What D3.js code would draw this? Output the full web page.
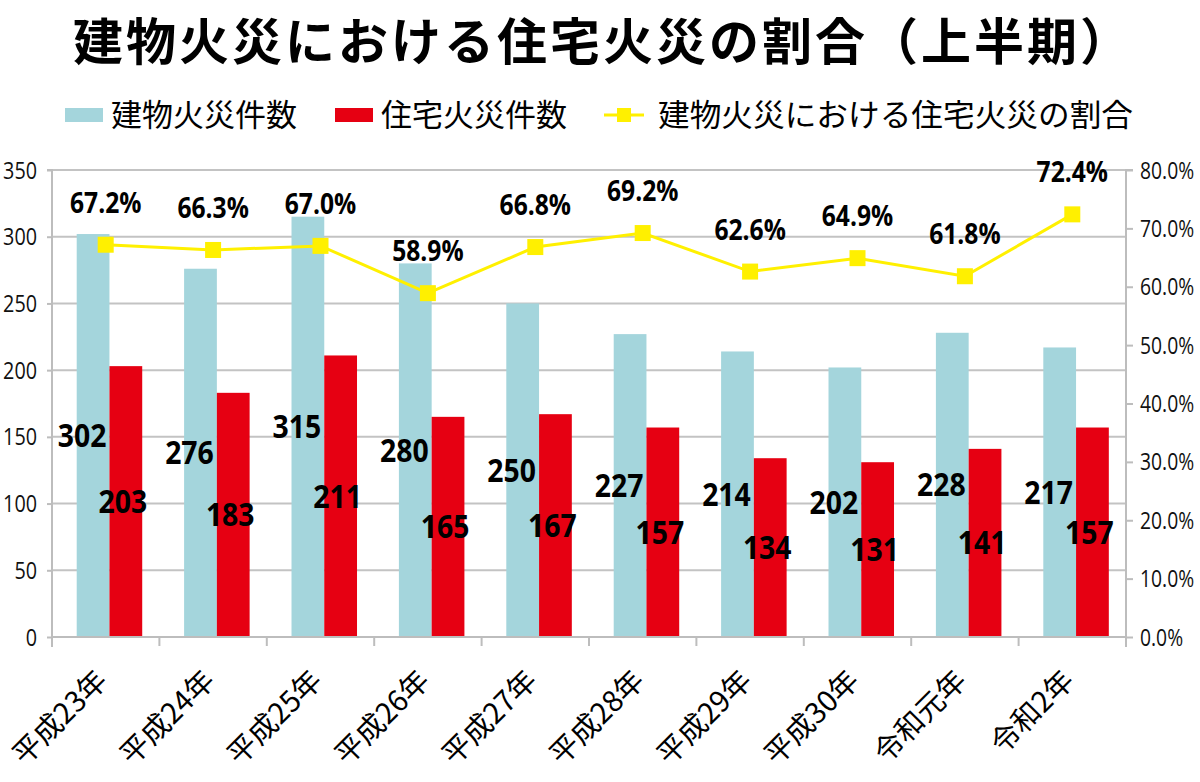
<!DOCTYPE html>
<html><head><meta charset="utf-8">
<script src="https://cdn.jsdelivr.net/npm/d3@7"></script>
<style>
body{margin:0;background:#fff;}
svg{display:block;}
</style></head><body>
<svg id="c" width="1200" height="782"></svg>
<script>
const categories = ["平成23年","平成24年","平成25年","平成26年","平成27年","平成28年","平成29年","平成30年","令和元年","令和2年"];
const buildingFires = [302,276,315,280,250,227,214,202,228,217];
const houseFires = [203,183,211,165,167,157,134,131,141,157];
const ratio = [67.2,66.3,67.0,58.9,66.8,69.2,62.6,64.9,61.8,72.4];
const leftTicks = [0,50,100,150,200,250,300,350];
const rightTicks = [0,10,20,30,40,50,60,70,80];
const seriesNames = ["建物火災件数","住宅火災件数","建物火災における住宅火災の割合"];
const title = "建物火災における住宅火災の割合（上半期）";

const colBlue = "#a4d5dc", colRed = "#e60012", colYellow = "#fff000";
const jp = "'Noto Sans CJK JP', sans-serif";
const num = "'Open Sans', sans-serif";

const svg = d3.select("#c");
const L = 52, R = 1126, T = 170, B = 637;

const x = d3.scaleBand().domain(categories).range([L, R]).paddingInner(0).paddingOuter(0);
const xs = d3.scaleBand().domain([0,1]).range([x.bandwidth()*0.23, x.bandwidth()*0.84]);
const y = d3.scaleLinear().domain([0,350]).range([B, T]);
const y2 = d3.scaleLinear().domain([0,80]).range([B, T]);

// title
svg.append("text").attr("x", 603).attr("y", 60).attr("text-anchor","middle")
  .attr("letter-spacing", 3)
  .attr("font-family", jp).attr("font-weight","bold").attr("font-size", 50).attr("fill","#000").text(title);

// gridlines
svg.append("g").selectAll("line").data(leftTicks.slice(1)).join("line")
  .attr("x1", L).attr("x2", R).attr("y1", d=>y(d)).attr("y2", d=>y(d))
  .attr("stroke","#c3c3c3").attr("stroke-width",2);

// bars
const g = svg.append("g");
g.selectAll("rect.b").data(buildingFires).join("rect").attr("class","b")
  .attr("x",(d,i)=>x(categories[i])+xs(0)).attr("width", xs.bandwidth())
  .attr("y", d=>y(d)).attr("height", d=>B-y(d)).attr("fill", colBlue);
g.selectAll("rect.h").data(houseFires).join("rect").attr("class","h")
  .attr("x",(d,i)=>x(categories[i])+xs(1)).attr("width", xs.bandwidth())
  .attr("y", d=>y(d)).attr("height", d=>B-y(d)).attr("fill", colRed);

// axes
const yAxis = d3.axisLeft(y).tickValues(leftTicks).tickSize(5).tickPadding(10);
const ya = svg.append("g").attr("transform",`translate(${L},0)`).call(yAxis);
ya.select(".domain").attr("stroke","#bdbdbd").attr("stroke-width",2).attr("d",`M-5,${T}H0V${B+10}`);
ya.selectAll(".tick line").attr("stroke","#bdbdbd").attr("stroke-width",2);
ya.selectAll(".tick text").attr("x",null).attr("transform","translate(-15,0) scale(0.86,1)")
  .attr("font-family",num).attr("font-size",23).attr("fill","#111").attr("dy","0.35em");

const y2Axis = d3.axisRight(y2).tickValues(rightTicks).tickSize(7).tickPadding(7).tickFormat(d=>d.toFixed(1)+"%");
const yb = svg.append("g").attr("transform",`translate(${R},0)`).call(y2Axis);
yb.select(".domain").attr("stroke","#bdbdbd").attr("stroke-width",2).attr("d",`M7,${T}H0V${B+10}`);
yb.selectAll(".tick line").attr("stroke","#bdbdbd").attr("stroke-width",2);
yb.selectAll(".tick text").attr("x",null).attr("transform","translate(14,0) scale(0.84,1)")
  .attr("font-family",num).attr("font-size",23).attr("fill","#111").attr("dy","0.35em");

// x axis
const xa = svg.append("g");
xa.append("line").attr("x1",L).attr("x2",R).attr("y1",B).attr("y2",B).attr("stroke","#bdbdbd").attr("stroke-width",2);
const bounds = categories.map(c=>x(c)).concat([R]);
xa.selectAll("line.t").data(bounds).join("line").attr("class","t")
  .attr("x1",d=>d).attr("x2",d=>d).attr("y1",B).attr("y2",B+9).attr("stroke","#bdbdbd").attr("stroke-width",2);
xa.selectAll("text").data(categories).join("text")
  .attr("transform", d=>`translate(${x(d)+x.bandwidth()/2-11},${B+31}) rotate(-45)`)
  .attr("text-anchor","end").attr("dy","0.7em")
  .attr("font-family",jp).attr("font-size",29).attr("fill","#000").text(d=>d);

// line
const cx = i => x(categories[i]) + x.bandwidth()/2;
svg.append("path").datum(ratio)
  .attr("d", d3.line().x((d,i)=>cx(i)).y(d=>y2(d)))
  .attr("fill","none").attr("stroke",colYellow).attr("stroke-width",3);
svg.selectAll("rect.m").data(ratio).join("rect").attr("class","m")
  .attr("x",(d,i)=>cx(i)-8).attr("y",d=>y2(d)-8).attr("width",16).attr("height",16).attr("fill",colYellow);

// labels
const lab = svg.append("g").attr("font-family",num).attr("font-weight","bold").attr("fill","#000").attr("text-anchor","middle");
lab.selectAll("text.p").data(ratio).join("text").attr("class","p")
  .attr("transform",(d,i)=>`translate(${cx(i)},${y2(d)-32}) scale(0.88,1)`)
  .attr("font-size",28)
  .text(d=>d.toFixed(1)+"%");
lab.selectAll("text.b").data(buildingFires).join("text").attr("class","b")
  .attr("transform",(d,i)=>`translate(${x(categories[i])+xs(0)+xs.bandwidth()/2-11},${y(d/2)}) scale(0.86,1)`)
  .attr("dy","0.35em").attr("font-size",33).text(d=>d);
lab.selectAll("text.h").data(houseFires).join("text").attr("class","h")
  .attr("transform",(d,i)=>`translate(${x(categories[i])+xs(1)+xs.bandwidth()/2-3},${y(d/2)}) scale(0.86,1)`)
  .attr("dy","0.35em").attr("font-size",33).text(d=>d);

// legend
const lg = svg.append("g").attr("font-family",jp).attr("font-size",31).attr("fill","#000");
lg.append("rect").attr("x",65).attr("y",108).attr("width",38).attr("height",14).attr("fill",colBlue);
lg.append("text").attr("x",111).attr("y",115).attr("dy","0.35em").text(seriesNames[0]);
lg.append("rect").attr("x",335).attr("y",108).attr("width",38).attr("height",14).attr("fill",colRed);
lg.append("text").attr("x",381).attr("y",115).attr("dy","0.35em").text(seriesNames[1]);
lg.append("line").attr("x1",604).attr("x2",644).attr("y1",115).attr("y2",115).attr("stroke",colYellow).attr("stroke-width",3);
lg.append("rect").attr("x",617).attr("y",108).attr("width",14).attr("height",14).attr("fill",colYellow);
lg.append("text").attr("x",658).attr("y",115).attr("dy","0.35em").attr("textLength",475).attr("lengthAdjust","spacingAndGlyphs").text(seriesNames[2]);
</script></body></html>
